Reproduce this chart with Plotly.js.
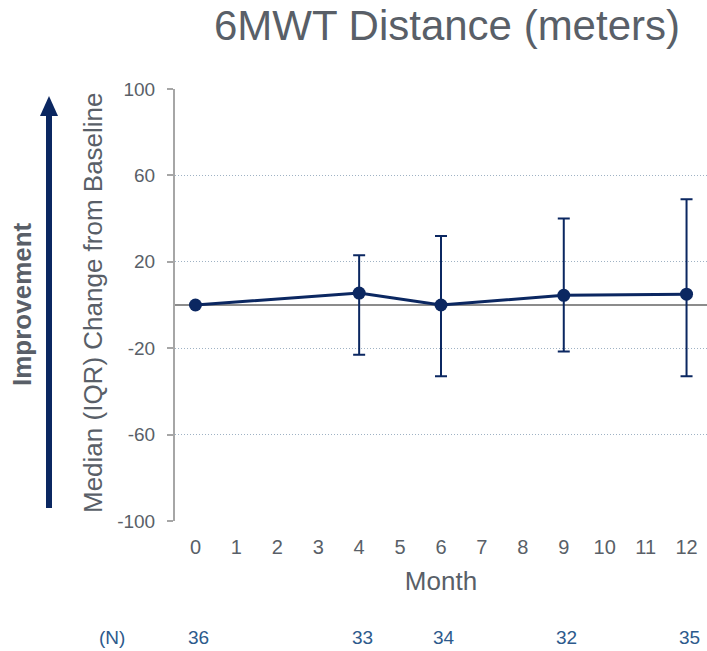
<!DOCTYPE html>
<html>
<head>
<meta charset="utf-8">
<script src="https://cdn.plot.ly/plotly-3.0.1.min.js"></script>
<style>html,body{margin:0;padding:0;background:#fff;}#chart{width:707px;height:651px;}</style>
</head>
<body>
<div id="chart"></div>
<script>
// Data
const months = [0, 4, 6, 9, 12];
const median = [0, 5.5, 0, 4.5, 5];
const q3 = [0, 23, 32, 40, 49];
const q1 = [0, -23, -33, -21.5, -33];
const nLabels = ['36', '33', '34', '32', '35'];
const xTicks = [0,1,2,3,4,5,6,7,8,9,10,11,12];
const yTicks = [-100, -60, -20, 20, 60, 100];

const W = 707, H = 651;
const M = {l: 175, r: 0, t: 89, b: 130};
const pw = W - M.l - M.r, ph = H - M.t - M.b;
const px = x => (x - M.l) / pw;
const py = y => (H - M.b - y) / ph;

const navy = '#0b2761';
const gray = '#595f68';
const nBlue = '#2d5a8c';
const font = 'Liberation Sans, Arial, sans-serif';

const trace = {
  x: months,
  y: median,
  type: 'scatter',
  mode: 'lines+markers',
  line: {color: navy, width: 3},
  marker: {color: navy, size: 13},
  error_y: {
    type: 'data',
    symmetric: false,
    array: q3.map((v, i) => v - median[i]),
    arrayminus: median.map((v, i) => v - q1[i]),
    color: navy,
    thickness: 2,
    width: 6
  },
  showlegend: false,
  hoverinfo: 'x+y'
};

const ann = [
  {text: 'Median (IQR) Change from Baseline', xref: 'paper', yref: 'paper',
   x: px(93), y: py(303), xanchor: 'center', yanchor: 'middle', textangle: -90, showarrow: false,
   font: {family: font, size: 26, color: gray}},
  {text: '<b>Improvement</b>', xref: 'paper', yref: 'paper',
   x: px(22), y: py(304), xanchor: 'center', yanchor: 'middle', textangle: -90, showarrow: false,
   font: {family: font, size: 26, color: gray}},
  {text: '(N)', xref: 'paper', yref: 'paper', x: px(112), y: py(637),
   xanchor: 'center', yanchor: 'middle',
   showarrow: false, font: {family: font, size: 19, color: nBlue}}
];
months.forEach((m, i) => {
  ann.push({text: nLabels[i], xref: 'x', yref: 'paper', x: m, y: py(637),
    xanchor: 'center', yanchor: 'middle', xshift: 3,
    showarrow: false, font: {family: font, size: 19, color: nBlue}});
});

const layout = {
  width: W, height: H,
  margin: M,
  paper_bgcolor: '#fff', plot_bgcolor: '#fff',
  font: {family: font, color: gray},
  title: {text: '6MWT Distance (meters)', x: 447 / W, xanchor: 'center',
          y: 1 - 25 / H, yanchor: 'middle', font: {family: font, size: 42, color: gray}},
  xaxis: {
    range: [-0.5, 12.5], tickvals: xTicks, ticktext: xTicks.map(String),
    showgrid: false, zeroline: false, showline: false, ticks: '',
    tickfont: {size: 20, color: gray}, fixedrange: true, ticklabelstandoff: 12,
    title: {text: 'Month', font: {size: 26, color: gray}, standoff: 14}
  },
  yaxis: {
    range: [-100, 100], tickvals: yTicks, ticktext: yTicks.map(String),
    showgrid: true, gridcolor: '#9fb2c4', griddash: '1px,2px', gridwidth: 1,
    zeroline: true, zerolinecolor: '#8c8c8c', zerolinewidth: 2,
    showline: true, linecolor: '#a6a6a6', linewidth: 2,
    ticks: 'outside', ticklen: 6, tickcolor: '#a6a6a6', tickwidth: 2,
    tickfont: {size: 19, color: gray}, fixedrange: true, ticklabelstandoff: 8
  },
  annotations: ann,
  shapes: [
    {type: 'line', xref: 'paper', yref: 'paper', x0: px(49), x1: px(49), y0: py(508), y1: py(112),
     line: {color: navy, width: 6}},
    {type: 'path', xref: 'paper', yref: 'paper',
     path: `M ${px(49)} ${py(96)} L ${px(40)} ${py(116)} L ${px(58)} ${py(116)} Z`,
     fillcolor: navy, line: {color: navy, width: 0}}
  ]
};

Plotly.newPlot('chart', [trace], layout, {displayModeBar: false, staticPlot: true});
</script>
</body>
</html>
